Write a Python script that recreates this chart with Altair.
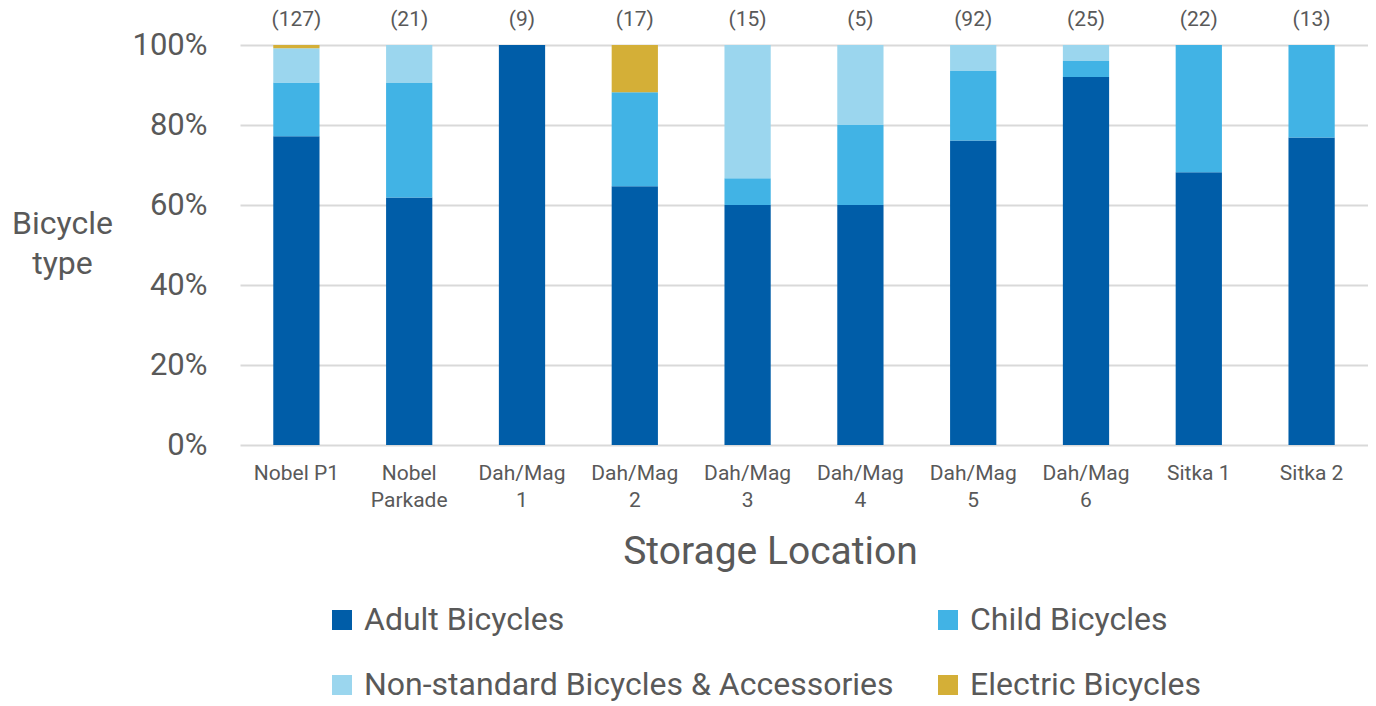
import altair as alt
import pandas as pd

locations = ["Nobel P1", "Nobel\nParkade", "Dah/Mag\n1", "Dah/Mag\n2", "Dah/Mag\n3",
             "Dah/Mag\n4", "Dah/Mag\n5", "Dah/Mag\n6", "Sitka 1", "Sitka 2"]
counts = [127, 21, 9, 17, 15, 5, 92, 25, 22, 13]
series = ["Adult Bicycles", "Child Bicycles",
          "Non-standard Bicycles & Accessories", "Electric Bicycles"]
adult = [77.2, 61.9, 100.0, 64.7, 60.0, 60.0, 76.1, 92.0, 68.2, 76.9]
child = [13.4, 28.6, 0.0, 23.5, 6.7, 20.0, 17.4, 4.0, 31.8, 23.1]
nonstd = [8.6, 9.5, 0.0, 0.0, 33.3, 20.0, 6.5, 4.0, 0.0, 0.0]
electric = [0.8, 0.0, 0.0, 11.8, 0.0, 0.0, 0.0, 0.0, 0.0, 0.0]
colors = ["#005DA8", "#41B3E5", "#9BD6EE", "#D4AF37"]

values = [adult, child, nonstd, electric]
rows = []
for si, (s, vals) in enumerate(zip(series, values)):
    for loc, v in zip(locations, vals):
        rows.append({"loc": loc, "type": s, "pct": v, "ord": si})
df = pd.DataFrame(rows)
df_n = pd.DataFrame({"loc": locations, "label": [f"({c})" for c in counts]})

TXT = "#595959"
FONT = "Roboto"

x = alt.X("loc:N", sort=locations,
          scale=alt.Scale(paddingInner=0.59, paddingOuter=0.295),
          axis=alt.Axis(title="Storage Location", labelAngle=0,
                        labelExpr="split(datum.label, '\\n')",
                        labelFontSize=21, labelLineHeight=27, labelColor=TXT,
                        labelPadding=17, labelFont=FONT,
                        domain=False, ticks=False, grid=False,
                        titleFontSize=39, titleColor=TXT, titleFont=FONT,
                        titleFontWeight="normal",
                        titleX=530, titleY=118, titleBaseline="alphabetic",
                        titleAlign="center"))

bars = alt.Chart(df).mark_bar().encode(
    x=x,
    y=alt.Y("pct:Q", stack="zero",
            scale=alt.Scale(domain=[0, 100]),
            axis=alt.Axis(values=[0, 20, 40, 60, 80, 100],
                          labelExpr="datum.value + '%'",
                          labelFontSize=31, labelColor=TXT, labelFont=FONT,
                          labelPadding=33,
                          domain=False, ticks=False,
                          gridColor="#d9d9d9", gridWidth=2,
                          title=["Bicycle", "type"], titleAngle=0,
                          titleFontSize=32, titleFont=FONT, titleColor=TXT,
                          titleFontWeight="normal", titleLineHeight=40,
                          titleAlign="center", titleBaseline="alphabetic",
                          titleX=-178, titleY=188)),
    color=alt.Color("type:N", sort=series,
                    scale=alt.Scale(domain=series, range=colors),
                    legend=alt.Legend(title=None, orient="none",
                                      direction="horizontal",
                                      legendX=86, legendY=559,
                                      columns=2, columnPadding=38,
                                      rowPadding=33, padding=0,
                                      symbolType="square", symbolSize=400,
                                      symbolStrokeWidth=0, symbolOffset=0,
                                      labelOffset=6,
                                      labelFontSize=32, labelColor=TXT,
                                      labelFont=FONT, labelLimit=0)),
    order=alt.Order("ord:Q", sort="ascending"),
)

texts = alt.Chart(df_n).mark_text(fontSize=21, color=TXT, font=FONT,
                                  baseline="middle", dy=-25).encode(
    x=alt.X("loc:N", sort=locations),
    y=alt.datum(100),
    text="label:N",
)

chart = alt.layer(bars, texts).properties(
    width=1128, height=400,
    autosize=alt.AutoSizeParams(type="none"),
    padding={"left": 232, "top": 37, "right": 0, "bottom": 258},
).configure_view(stroke=None)

chart.save("out.html", embed_options={"renderer": "svg", "actions": False})
